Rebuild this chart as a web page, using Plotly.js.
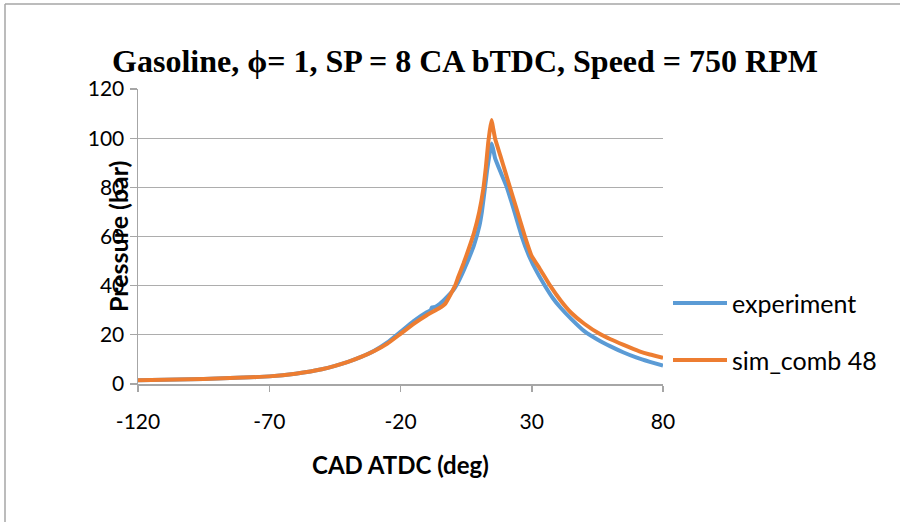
<!DOCTYPE html>
<html>
<head>
<meta charset="utf-8">
<script src="https://cdn.plot.ly/plotly-3.0.1.min.js"></script>
<style>html,body{margin:0;padding:0;background:#fff;}#chart{width:900px;height:522px;}</style>
</head>
<body>
<div id="chart"></div>
<script>
// Experiment (blue)
const expCad = [-120,-110,-100,-90,-80,-70,-60,-50,-40,-35,-30,-25,-20,-15,-10,-8.5,-8,-7,-5,-3,0,2,4,6,8,10,11,12.2,13,14,14.7,15.3,16,18,20.5,23,26.2,29,32,35,38,41,45,50,56,60,65,70,75,80];
const expP   = [1.5,1.7,1.9,2.2,2.6,3.1,4.2,6.0,9.0,11.0,13.5,16.9,21.2,25.6,29.2,30.0,31.2,31.3,32.6,34.6,38,41.5,46,51,56.5,64,70,80,87,94,97.8,95.5,92,86.5,80,71.5,60,52,45.5,40,35,31,26.5,21.5,17.5,15.3,12.8,10.7,9.0,7.5];
// Simulation sim_comb 48 (orange)
const simCad = [-120,-110,-100,-90,-80,-70,-60,-50,-40,-35,-30,-25,-20,-15,-10,-5,-3,0.8,2,4,6,8,10,11.5,12.5,13.4,14,14.7,15.3,16,18,20,21.7,24,27.4,30,33,37,41,45,50,56,60,65,71,75,80];
const simP   = [1.5,1.7,1.9,2.2,2.6,3.1,4.2,6.0,9.0,11.0,13.4,16.4,20.4,24.5,28.0,31.0,32.6,40,43.5,49,55,61.5,70,79,88,98,103,107.4,104,100,93,86,80,72,60,52,47,40,34,29,24.5,20.3,18.2,15.9,13.3,12,10.7];

const seriesNames = ['experiment','sim_comb 48'];
const colors = ['#5B9BD5','#ED7D31'];
const xTicks = [-120,-70,-20,30,80];
const yTicks = [0,20,40,60,80,100,120];

const L=138, R=663, T=89, B=384;
const px = x => (x-L)/(R-L);
const py = y => (B-y)/(B-T);

const traces = [
  {x:expCad, y:expP, name:seriesNames[0], mode:'lines', line:{color:colors[0], width:4, shape:'spline', smoothing:0.4}},
  {x:simCad, y:simP, name:seriesNames[1], mode:'lines', line:{color:colors[1], width:4, shape:'spline', smoothing:0.4}}
];

const FAM = 'Lato, "Liberation Sans", sans-serif';
const tickFont = {family:FAM, size:21, color:'#000'};
const legFont = {family:FAM, size:25, color:'#000'};

const shapes = [
  {type:'line', xref:'paper', yref:'paper', x0:px(5), x1:px(900), y0:py(4), y1:py(4), line:{color:'#A6A6A6', width:1.5}},
  {type:'line', xref:'paper', yref:'paper', x0:px(5), x1:px(5), y0:py(4), y1:py(522), line:{color:'#A6A6A6', width:1.5}},
  {type:'line', xref:'paper', yref:'paper', x0:px(673), x1:px(727), y0:py(303), y1:py(303), line:{color:colors[0], width:4}},
  {type:'line', xref:'paper', yref:'paper', x0:px(673), x1:px(727), y0:py(360), y1:py(360), line:{color:colors[1], width:4}}
];

const annotations = [
  {text:seriesNames[0], xref:'paper', yref:'paper', x:px(730), y:py(303), xanchor:'left', yanchor:'middle', showarrow:false, font:legFont},
  {text:seriesNames[1], xref:'paper', yref:'paper', x:px(730), y:py(360), xanchor:'left', yanchor:'middle', showarrow:false, font:legFont},
  {text:'<b>Pressure (bar)</b>', xref:'paper', yref:'paper', x:px(118), y:py(237), textangle:-90, xanchor:'center', yanchor:'middle', showarrow:false, font:{family:FAM, size:25, color:'#000'}},
  {text:'<b>CAD ATDC (deg)</b>', xref:'paper', yref:'paper', x:px(400), y:py(465), xanchor:'center', yanchor:'middle', showarrow:false, font:{family:FAM, size:24, color:'#000'}}
];

const layout = {
  width:900, height:522,
  margin:{l:L, r:900-R, t:T, b:522-B},
  paper_bgcolor:'#fff', plot_bgcolor:'#fff',
  showlegend:false,
  title:{text:'<b>Gasoline, ϕ= 1, SP = 8 CA bTDC, Speed = 750 RPM</b>', x:465/900, xanchor:'center', y:1-61/522, yanchor:'middle', xref:'container', yref:'container',
         font:{family:'"Liberation Serif", "Times New Roman", serif', size:32, color:'#000'}},
  xaxis:{range:[-120,80], tickvals:xTicks, ticktext:xTicks.map(String), showgrid:false, zeroline:false,
         showline:true, linecolor:'#A6A6A6', linewidth:1.5, ticks:'outside', ticklen:6, tickcolor:'#A6A6A6', tickwidth:1.5,
         tickfont:tickFont, ticklabelstandoff:12},
  yaxis:{range:[0,120], tickvals:yTicks, ticktext:yTicks.map(String), showgrid:true, gridcolor:'#ADADAD', gridwidth:1.3, zeroline:false,
         showline:true, linecolor:'#A6A6A6', linewidth:1.5, ticks:'outside', ticklen:7, tickcolor:'#A6A6A6', tickwidth:1.3,
         tickfont:tickFont, ticklabelstandoff:1},
  shapes:shapes, annotations:annotations
};

Plotly.newPlot('chart', traces, layout, {staticPlot:true, displayModeBar:false});
</script>
</body>
</html>
